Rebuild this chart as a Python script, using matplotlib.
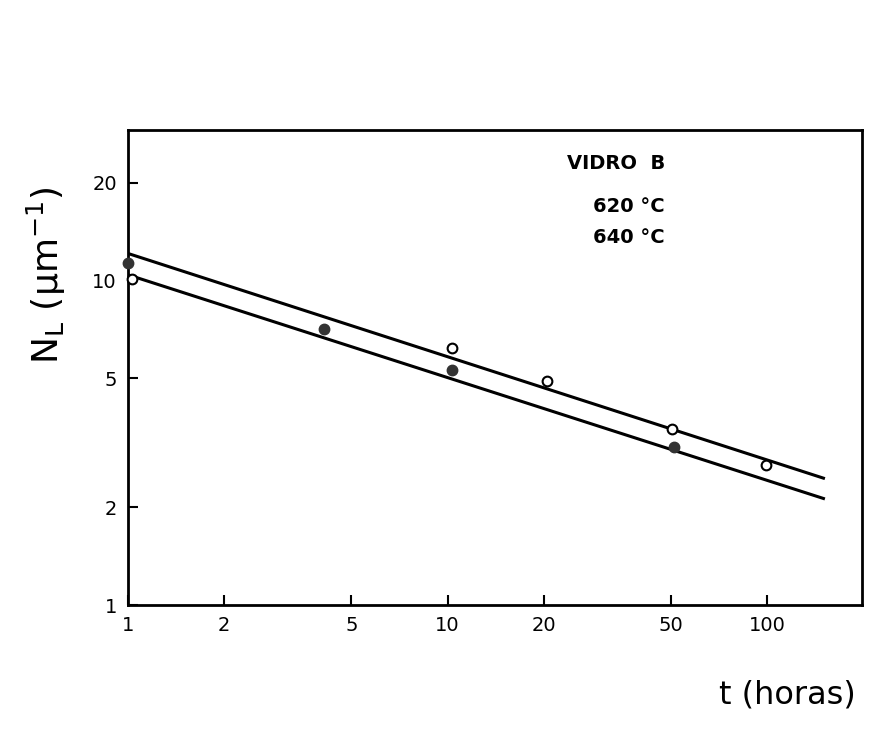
import matplotlib
matplotlib.use("Agg")
import matplotlib.pyplot as plt
from matplotlib.ticker import FixedLocator, FixedFormatter, NullLocator

# Data
t_filled = [1.0, 4.1, 10.3, 51.0]
n_filled = [11.3, 7.07, 5.3, 3.06]
t_open = [1.03, 10.3, 20.5, 50.5, 99.0]
n_open = [10.1, 6.2, 4.9, 3.48, 2.70]

line_t = [1.0, 150.0]
line_upper = [12.1, 2.46]
line_lower = [10.4, 2.13]

x_ticks = [1, 2, 5, 10, 20, 50, 100]
x_labels = ["1", "2", "5", "10", "20", "50", "100"]
y_ticks = [1, 2, 5, 10, 20]
y_labels = ["1", "2", "5", "10", "20"]

legend_lines = ["VIDRO  B", "620 °C", "640 °C"]

fig = plt.figure(figsize=(8.85, 7.48), dpi=100)
ax = fig.add_axes([0.1446, 0.191, 0.974 - 0.1446, 0.826 - 0.191])
ax.set_xscale("log")
ax.set_yscale("log")
ax.set_xlim(1, 198)
ax.set_ylim(1, 29)

ax.plot(line_t, line_upper, color="black", lw=2.2)
ax.plot(line_t, line_lower, color="black", lw=2.2)
ax.plot(t_filled, n_filled, "o", color="#333333", markersize=7.5, zorder=3,
        clip_on=False)
ax.plot(t_open, n_open, "o", mfc="white", mec="black", mew=1.5, markersize=7,
        zorder=3, clip_on=False)

ax.xaxis.set_major_locator(FixedLocator(x_ticks))
ax.xaxis.set_major_formatter(FixedFormatter(x_labels))
ax.xaxis.set_minor_locator(NullLocator())
ax.yaxis.set_major_locator(FixedLocator(y_ticks))
ax.yaxis.set_major_formatter(FixedFormatter(y_labels))
ax.yaxis.set_minor_locator(NullLocator())
ax.tick_params(direction="in", length=7, width=1.5, labelsize=14, pad=8)
for s in ax.spines.values():
    s.set_linewidth(2.0)

x_right = (665 - 128) / (862 - 128)
ax.text(x_right, 0.93, legend_lines[0], transform=ax.transAxes, fontsize=14,
        ha="right", va="center", fontweight="bold")
ax.text(x_right, 0.84, legend_lines[1], transform=ax.transAxes, fontsize=14,
        ha="right", va="center", fontweight="bold")
ax.text(x_right, 0.775, legend_lines[2], transform=ax.transAxes, fontsize=14,
        ha="right", va="center", fontweight="bold")

fig.text(0.052, 0.632, r"N$_\mathregular{L}$ (μm$^{-1}$)", rotation=90,
         fontsize=26, ha="center", va="center")
fig.text(0.967, 0.071, "t (horas)", fontsize=23, ha="right", va="center")

fig.savefig("out.png", dpi=100)
